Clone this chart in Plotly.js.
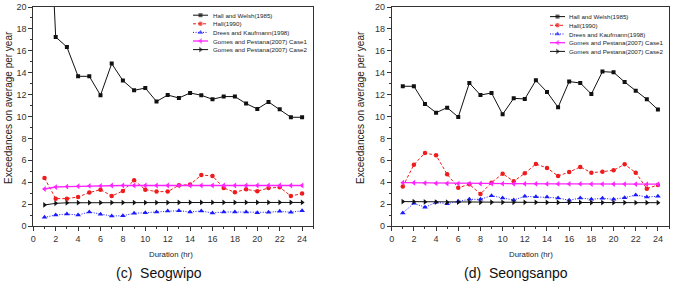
<!DOCTYPE html>
<html>
<head>
<meta charset="utf-8">
<script src="https://cdn.plot.ly/plotly-3.0.1.min.js"></script>
<style>
  html, body { margin: 0; padding: 0; background: #fff; }
  #chart { width: 673px; height: 282px; }
</style>
</head>
<body>
<div id="chart"></div>
<script>
// Storm-surge exceedances per year vs. duration, two stations.
const durations = [1, 2, 3, 4, 5, 6, 7, 8, 9, 10, 11, 12, 13, 14, 15, 16, 17, 18, 19, 20, 21, 22, 23, 24];

const seriesNames = [
  'Hall and Welsh(1985)',
  'Hall(1990)',
  'Drees and Kaufmann(1998)',
  'Gomes and Pestana(2007) Case1',
  'Gomes and Pestana(2007) Case2'
];

// (c) Seogwipo
const seogwipoHallWelsh = [39.2, 17.26, 16.35, 13.67, 13.67, 11.94, 14.83, 13.28, 12.39, 12.6, 11.37, 11.96, 11.69, 12.15, 11.94, 11.57, 11.82, 11.82, 11.18, 10.69, 11.33, 10.66, 9.93, 9.93];
const seogwipoHall = [4.38, 2.5, 2.5, 2.65, 3.05, 3.32, 2.74, 3.2, 4.17, 3.32, 3.14, 3.14, 3.72, 3.78, 4.66, 4.57, 3.47, 3.08, 3.35, 3.17, 3.47, 3.53, 2.74, 2.96];
const seogwipoDrees = [0.79, 1.0, 1.1, 1.0, 1.28, 1.07, 0.91, 0.94, 1.16, 1.22, 1.28, 1.37, 1.4, 1.28, 1.37, 1.19, 1.28, 1.28, 1.28, 1.22, 1.25, 1.34, 1.25, 1.4];
const seogwipoGomes1 = [3.38, 3.56, 3.6, 3.63, 3.66, 3.66, 3.7, 3.7, 3.7, 3.7, 3.7, 3.7, 3.7, 3.7, 3.7, 3.7, 3.7, 3.7, 3.7, 3.7, 3.7, 3.7, 3.7, 3.7];
const seogwipoGomes2 = [1.92, 2.07, 2.12, 2.13, 2.13, 2.13, 2.14, 2.14, 2.14, 2.14, 2.14, 2.14, 2.15, 2.15, 2.15, 2.15, 2.15, 2.15, 2.15, 2.15, 2.15, 2.15, 2.15, 2.15];

// (d) Seongsanpo
const seongsanpoHallWelsh = [12.76, 12.76, 11.14, 10.35, 10.81, 9.95, 13.06, 11.96, 12.15, 10.2, 11.66, 11.6, 13.3, 12.24, 10.84, 13.19, 13.06, 12.05, 14.1, 14.04, 13.15, 12.36, 11.57, 10.63];
const seongsanpoHall = [3.6, 5.6, 6.67, 6.46, 4.72, 3.5, 3.81, 2.92, 3.96, 4.78, 4.08, 4.81, 5.66, 5.3, 4.57, 4.93, 5.39, 4.87, 4.96, 5.09, 5.63, 4.87, 3.41, 3.75];
const seongsanpoDrees = [1.19, 2.07, 1.71, 2.16, 2.04, 2.25, 2.44, 2.44, 2.77, 2.56, 2.37, 2.71, 2.68, 2.65, 2.56, 2.35, 2.56, 2.44, 2.53, 2.44, 2.59, 2.83, 2.65, 2.71];
const seongsanpoGomes1 = [3.96, 3.95, 3.92, 3.9, 3.88, 3.87, 3.87, 3.86, 3.86, 3.86, 3.85, 3.85, 3.85, 3.84, 3.84, 3.84, 3.84, 3.83, 3.83, 3.83, 3.83, 3.82, 3.82, 3.82];
const seongsanpoGomes2 = [2.23, 2.22, 2.2, 2.19, 2.18, 2.18, 2.17, 2.17, 2.17, 2.16, 2.16, 2.16, 2.16, 2.15, 2.15, 2.15, 2.15, 2.14, 2.14, 2.14, 2.14, 2.13, 2.13, 2.13];

const xTickVals = [0, 2, 4, 6, 8, 10, 12, 14, 16, 18, 20, 22, 24];
const yTickVals = [0, 2, 4, 6, 8, 10, 12, 14, 16, 18, 20];

const panelTitles = ['(c)  Seogwipo', '(d)  Seongsanpo'];
const xTitle = 'Duration (hr)';
const yTitle = 'Exceedances on average per year';

// Per-series styling (line dash, colour, marker symbol)
const styles = [
  { color: '#111111', dash: 'solid', symbol: 'square', size: 4, width: 1 },
  { color: '#ee1c1c', dash: '3px,2px', symbol: 'circle', size: 4.5, width: 1 },
  { color: '#1a1aff', dash: '1px,1.5px', symbol: 'triangle-up', size: 5, width: 1 },
  { color: '#ff22ff', dash: 'solid', symbol: 'triangle-left', size: 5, width: 1.3 },
  { color: '#111111', dash: 'solid', symbol: 'triangle-right', size: 5, width: 1 }
];

const W = 673, H = 282, MT = 7, MB = 56;
const font = 'Liberation Sans, Arial, sans-serif';

// pixel -> paper helpers (left/right margins are zero)
const px = v => v / W;
const py = v => (H - MB - v) / (H - MT - MB);

const panels = [
  { xa: 'x', ya: 'y', series: [seogwipoHallWelsh, seogwipoHall, seogwipoDrees, seogwipoGomes1, seogwipoGomes2] },
  { xa: 'x2', ya: 'y2', series: [seongsanpoHallWelsh, seongsanpoHall, seongsanpoDrees, seongsanpoGomes1, seongsanpoGomes2] }
];

const traces = [];
panels.forEach(p => {
  p.series.forEach((vals, i) => {
    const s = styles[i];
    traces.push({
      type: 'scatter', mode: 'lines+markers',
      x: durations, y: vals, xaxis: p.xa, yaxis: p.ya,
      name: seriesNames[i], showlegend: false, hoverinfo: 'skip',
      line: { color: s.color, width: s.width, dash: s.dash },
      marker: { color: s.color, symbol: s.symbol, size: s.size, line: { width: 0 } }
    });
  });
});

// Compact legends drawn on a pixel-unit overlay axis pair (x3/y3)
const legendBoxes = [
  { lineX0: 193, lineX1: 208, textX: 210.5, rowY0: 15.2, step: 8.6 },
  { lineX0: 550, lineX1: 565, textX: 566.5, rowY0: 16.6, step: 8.7 }
];
const annotations = [];
legendBoxes.forEach(lb => {
  seriesNames.forEach((nm, i) => {
    const s = styles[i];
    const ry = lb.rowY0 + i * lb.step;
    const mid = (lb.lineX0 + lb.lineX1) / 2;
    traces.push({
      type: 'scatter', mode: 'lines+markers', xaxis: 'x3', yaxis: 'y3',
      x: [lb.lineX0, mid, lb.lineX1], y: [ry, ry, ry],
      showlegend: false, hoverinfo: 'skip', cliponaxis: false,
      line: { color: s.color, width: s.width, dash: s.dash },
      marker: { color: s.color, symbol: s.symbol, size: [0, s.size, 0], line: { width: 0 } }
    });
    annotations.push({
      xref: 'paper', yref: 'paper', x: px(lb.textX), y: py(ry), text: nm, showarrow: false,
      xanchor: 'left', yanchor: 'middle', font: { family: font, size: 6.2, color: '#222' }
    });
  });
});

// Axis and panel titles
[[8, 108], [360, 108]].forEach(([x, y]) => {
  annotations.push({ xref: 'paper', yref: 'paper', x: px(x), y: py(y), text: yTitle, textangle: -90, showarrow: false,
    xanchor: 'center', yanchor: 'middle', font: { family: font, size: 10, color: '#222' } });
});
[[171, 254], [531, 254]].forEach(([x, y]) => {
  annotations.push({ xref: 'paper', yref: 'paper', x: px(x), y: py(y), text: xTitle, showarrow: false,
    xanchor: 'center', yanchor: 'middle', font: { family: font, size: 7.8, color: '#222' } });
});
[[158.5, 272.5], [515.5, 272.5]].forEach(([x, y], i) => {
  annotations.push({ xref: 'paper', yref: 'paper', x: px(x), y: py(y), text: panelTitles[i], showarrow: false,
    xanchor: 'center', yanchor: 'middle', font: { family: font, size: 14, color: '#111' } });
});

function xAxis(domain, anchor) {
  return {
    domain: domain, anchor: anchor, range: [0, 25], tickvals: xTickVals,
    ticks: 'outside', ticklen: 4, tickwidth: 1, tickcolor: '#333',
    minor: { dtick: 1, tick0: 0, ticks: 'outside', ticklen: 2, tickcolor: '#333', showgrid: false },
    showline: true, linecolor: '#333', linewidth: 1, mirror: true,
    showgrid: false, zeroline: false, fixedrange: true,
    tickfont: { family: font, size: 9, color: '#333' }
  };
}
function yAxis(anchor) {
  return {
    domain: [0, 1], anchor: anchor, range: [0, 20], tickvals: yTickVals,
    ticks: 'outside', ticklen: 4, tickwidth: 1, tickcolor: '#333',
    minor: { dtick: 1, tick0: 0, ticks: 'outside', ticklen: 2, tickcolor: '#333', showgrid: false },
    showline: true, linecolor: '#333', linewidth: 1, mirror: true,
    showgrid: false, zeroline: false, fixedrange: true,
    tickfont: { family: font, size: 9, color: '#333' }
  };
}

const layout = {
  width: W, height: H,
  margin: { l: 0, r: 0, t: MT, b: MB, pad: 0 },
  paper_bgcolor: '#fff', plot_bgcolor: 'rgba(0,0,0,0)',
  showlegend: false,
  xaxis: xAxis([33.3 / W, 313.3 / W], 'y'),
  yaxis: yAxis('x'),
  xaxis2: xAxis([391.7 / W, 669 / W], 'y2'),
  yaxis2: yAxis('x2'),
  xaxis3: { domain: [0, 1], range: [0, W], anchor: 'y3', visible: false, fixedrange: true },
  yaxis3: { domain: [0, 1], range: [H - MB, MT], anchor: 'x3', visible: false, fixedrange: true, overlaying: 'y' },
  annotations: annotations
};

Plotly.newPlot('chart', traces, layout, { displayModeBar: false, staticPlot: true });
</script>
</body>
</html>
